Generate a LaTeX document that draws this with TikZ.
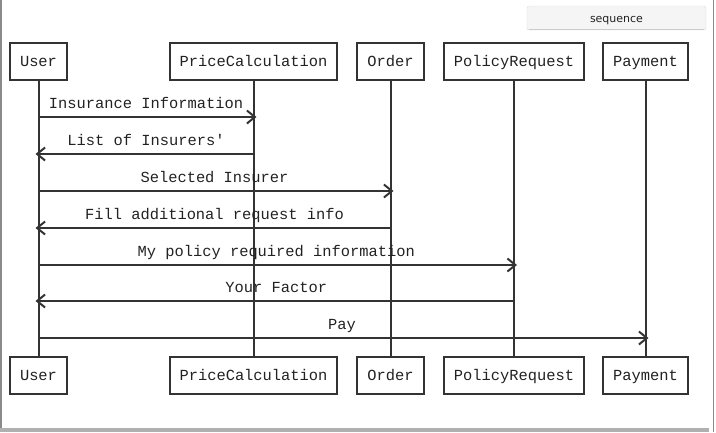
\documentclass[tikz,border=0pt]{standalone}
\usepackage{fontspec}
\newfontfamily\monof{Liberation Mono}
\newfontfamily\uisans{DejaVu Sans}
\usetikzlibrary{arrows.meta}
\definecolor{ink}{HTML}{333333}
\definecolor{txt}{HTML}{222222}
\definecolor{frame}{HTML}{8A8A8A}
\definecolor{barg}{HTML}{B0B0B0}
\definecolor{btnfill}{HTML}{F5F5F5}
\definecolor{btnline}{HTML}{DDDDDD}
\definecolor{btnshade}{HTML}{C8CCCC}
\begin{document}
\begin{tikzpicture}[x=1pt,y=-1pt,
  actor/.style={draw=ink,line width=2pt,fill=white,minimum height=37pt,inner sep=0pt,
     font=\monof\fontsize{15.4}{18}\selectfont,text=txt,text height=11pt,text depth=2pt},
  life/.style={draw=ink,line width=2pt},
  msg/.style={draw=ink,line width=2pt,-{Straight Barb[length=8pt,width=13pt,line width=2pt]},shorten >=-3pt},
  lbl/.style={font=\monof\fontsize{15.4}{18}\selectfont,text=txt,inner sep=0pt,anchor=base,yshift=9pt}
]
\useasboundingbox (0,0) rectangle (716,432);
% frame
\draw[frame,line width=1.5pt] (0.75,0) -- (0.75,432);
\draw[frame,line width=1pt] (713,0) -- (713,432);
\fill[barg] (0,428) rectangle (709,432);
% sequence button
\node[draw=btnline,fill=btnfill,rounded corners=2pt,minimum width=179pt,minimum height=24pt,
  font=\uisans\fontsize{11}{13}\selectfont,text=txt,inner sep=0pt,text height=9.5pt,text depth=0.5pt] (btn) at (616.5,18) {sequence};
\draw[btnshade,line width=1pt] ([xshift=2pt,yshift=0.5pt]btn.south west) -- ([xshift=-2pt,yshift=0.5pt]btn.south east);
% top actors
\node[actor,minimum width=57pt] (uT) at (38.5,61.5) {User};
\node[actor,minimum width=167pt] (pcT) at (253.5,61.5) {PriceCalculation};
\node[actor,minimum width=67pt] (oT) at (390.5,61.5) {Order};
\node[actor,minimum width=140pt] (prT) at (514,61.5) {PolicyRequest};
\node[actor,minimum width=85pt] (pyT) at (645.5,61.5) {Payment};
% bottom actors
\node[actor,minimum width=57pt] (uB) at (38.5,375.5) {User};
\node[actor,minimum width=167pt] (pcB) at (253.5,375.5) {PriceCalculation};
\node[actor,minimum width=67pt] (oB) at (390.5,375.5) {Order};
\node[actor,minimum width=140pt] (prB) at (514,375.5) {PolicyRequest};
\node[actor,minimum width=85pt] (pyB) at (645.5,375.5) {Payment};
% lifelines
\draw[life] (uT) -- (uB);
\draw[life] (pcT) -- (pcB);
\draw[life] (oT) -- (oB);
\draw[life] (prT) -- (prB);
\draw[life] (pyT) -- (pyB);
% message anchor coordinates
\coordinate (u1) at (38.5,117);  \coordinate (pc1) at (253.5,117);
\coordinate (u2) at (38.5,154);  \coordinate (pc2) at (253.5,154);
\coordinate (u3) at (38.5,191);  \coordinate (o3) at (390.5,191);
\coordinate (u4) at (38.5,228);  \coordinate (o4) at (390.5,228);
\coordinate (u5) at (38.5,265);  \coordinate (pr5) at (514,265);
\coordinate (u6) at (38.5,301);  \coordinate (pr6) at (514,301);
\coordinate (u7) at (38.5,338);  \coordinate (py7) at (645.5,338);
% messages
\draw[msg] (u1) -- node[lbl] {Insurance Information} (pc1);
\draw[msg] (pc2) -- node[lbl] {List of Insurers'} (u2);
\draw[msg] (u3) -- node[lbl] {Selected Insurer} (o3);
\draw[msg] (o4) -- node[lbl] {Fill additional request info} (u4);
\draw[msg] (u5) -- node[lbl] {My policy required information} (pr5);
\draw[msg] (pr6) -- node[lbl] {Your Factor} (u6);
\draw[msg] (u7) -- node[lbl] {Pay} (py7);
\end{tikzpicture}
\end{document}
